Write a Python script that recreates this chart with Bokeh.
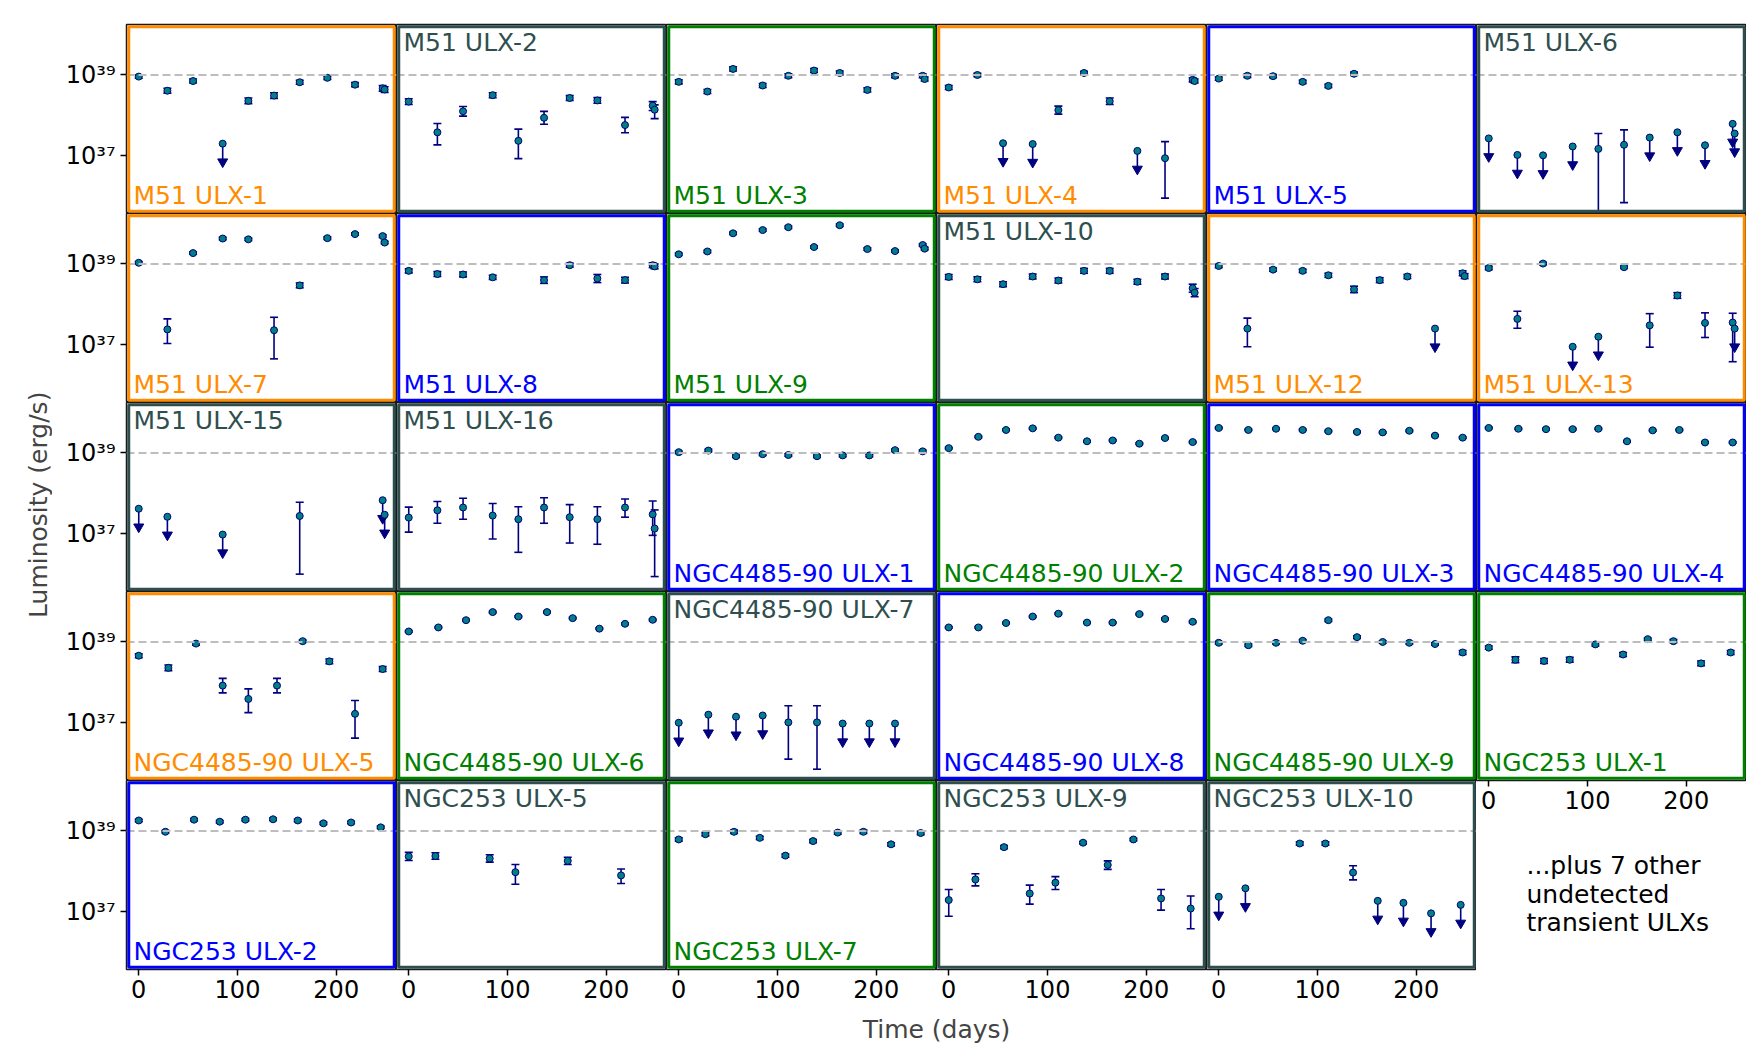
import numpy as np
from bokeh.plotting import figure
from bokeh.models import GridBox, Span, Label, FixedTicker, Range1d, Title, BoxAnnotation
from bokeh.embed import file_html
from bokeh.resources import INLINE

# ---------------- data (log10 luminosity in erg/s, time in days) ----------------
T_M51 = [0, 29, 55, 85, 111, 137, 163, 191, 219, 247, 249]
T_N4485 = [0, 30, 58, 85, 111, 140, 166, 193, 219, 247]
T_N253 = [0, 27, 56, 82, 108, 136, 161, 187, 215, 245]

NAMES = ["M51 ULX-1", "M51 ULX-2", "M51 ULX-3", "M51 ULX-4", "M51 ULX-5", "M51 ULX-6",
         "M51 ULX-7", "M51 ULX-8", "M51 ULX-9", "M51 ULX-10", "M51 ULX-12", "M51 ULX-13",
         "M51 ULX-15", "M51 ULX-16", "NGC4485-90 ULX-1", "NGC4485-90 ULX-2", "NGC4485-90 ULX-3", "NGC4485-90 ULX-4",
         "NGC4485-90 ULX-5", "NGC4485-90 ULX-6", "NGC4485-90 ULX-7", "NGC4485-90 ULX-8", "NGC4485-90 ULX-9", "NGC253 ULX-1",
         "NGC253 ULX-2", "NGC253 ULX-5", "NGC253 ULX-7", "NGC253 ULX-9", "NGC253 ULX-10"]
# class of each source (sets frame / label colour)
CLASSES = ["orange", "gray", "green", "orange", "blue", "gray",
           "orange", "blue", "green", "gray", "orange", "orange",
           "gray", "gray", "blue", "green", "blue", "blue",
           "orange", "green", "gray", "blue", "green", "green",
           "blue", "gray", "green", "gray", "gray"]

m51_ulx1_t = T_M51
m51_ulx1_L = [38.96, 38.61, 38.85, 37.30, 38.36, 38.49, 38.82, 38.93, 38.76, 38.67, 38.64]
m51_ulx1_eu = [.04, .06, .05, 0, .07, .07, .05, .04, .05, .07, .07]
m51_ulx1_ed = [.04, .06, .05, 0, .07, .07, .05, .04, .05, .07, .07]
m51_ulx1_ul = [0, 0, 0, 1, 0, 0, 0, 0, 0, 0, 0]

m51_ulx2_t = T_M51
m51_ulx2_L = [38.34, 37.58, 38.10, 38.50, 37.37, 37.94, 38.43, 38.37, 37.76, 38.24, 38.14]
m51_ulx2_eu = [.07, .22, .12, .06, .29, .16, .06, .07, .19, .10, .12]
m51_ulx2_ed = [.07, .31, .12, .06, .44, .16, .06, .07, .19, .12, .22]
m51_ulx2_ul = [0] * 11

m51_ulx3_t = T_M51
m51_ulx3_L = [38.83, 38.59, 39.15, 38.74, 38.98, 39.11, 39.05, 38.63, 38.98, 38.98, 38.90]
m51_ulx3_eu = [.05] * 11
m51_ulx3_ed = [.05] * 11
m51_ulx3_ul = [0] * 11

m51_ulx4_t = T_M51
m51_ulx4_L = [38.69, 39.00, 37.31, 37.29, 38.13, 39.05, 38.35, 37.12, 36.94, 38.88, 38.85]
m51_ulx4_eu = [.05, .04, 0, 0, .10, .04, .08, 0, .41, .05, .05]
m51_ulx4_ed = [.05, .04, 0, 0, .10, .04, .08, 0, .99, .05, .05]
m51_ulx4_ul = [0, 0, 1, 1, 0, 0, 0, 1, 0, 0, 0]

m51_ulx5_t = [0, 29, 55, 85, 111, 137]
m51_ulx5_L = [38.91, 38.98, 38.97, 38.83, 38.73, 39.03]
m51_ulx5_eu = [.04] * 6
m51_ulx5_ed = [.04] * 6
m51_ulx5_ul = [0] * 6

m51_ulx6_t = T_M51
m51_ulx6_L = [37.43, 37.02, 37.01, 37.23, 37.17, 37.27, 37.45, 37.58, 37.26, 37.79, 37.55]
m51_ulx6_eu = [0, 0, 0, 0, .38, .37, 0, 0, 0, 0, 0]
m51_ulx6_ed = [0, 0, 0, 0, 1.8, 1.43, 0, 0, 0, 0, 0]
m51_ulx6_ul = [1, 1, 1, 1, 0, 0, 1, 1, 1, 1, 1]

m51_ulx7_t = T_M51
m51_ulx7_L = [39.03, 37.38, 39.27, 39.63, 39.61, 37.36, 38.47, 39.64, 39.74, 39.69, 39.53]
m51_ulx7_eu = [.03, .26, .03, .03, .03, .32, .06, .03, .03, .03, .03]
m51_ulx7_ed = [.03, .35, .03, .03, .03, .71, .06, .03, .03, .03, .03]
m51_ulx7_ul = [0] * 11

m51_ulx8_t = [0, 29, 55, 85, 137, 163, 191, 219, 247, 249]
m51_ulx8_L = [38.83, 38.75, 38.74, 38.67, 38.60, 38.97, 38.64, 38.60, 38.97, 38.94]
m51_ulx8_eu = [.05, .06, .06, .05, .08, .05, .10, .07, .06, .06]
m51_ulx8_ed = [.05, .06, .06, .05, .08, .05, .10, .07, .06, .06]
m51_ulx8_ul = [0] * 10

m51_ulx9_t = T_M51
m51_ulx9_L = [39.24, 39.31, 39.76, 39.84, 39.91, 39.42, 39.96, 39.37, 39.32, 39.47, 39.38]
m51_ulx9_eu = [.03] * 11
m51_ulx9_ed = [.03] * 11
m51_ulx9_ul = [0] * 11

m51_ulx10_t = T_M51
m51_ulx10_L = [38.68, 38.62, 38.50, 38.69, 38.59, 38.83, 38.83, 38.56, 38.69, 38.40, 38.29]
m51_ulx10_eu = [.06, .06, .06, .06, .06, .06, .06, .06, .06, .10, .10]
m51_ulx10_ed = [.06, .06, .06, .06, .06, .06, .06, .06, .06, .10, .10]
m51_ulx10_ul = [0] * 11

m51_ulx12_t = T_M51
m51_ulx12_L = [38.95, 37.40, 38.86, 38.83, 38.72, 38.37, 38.60, 38.69, 37.40, 38.77, 38.70]
m51_ulx12_eu = [.04, .26, .04, .04, .05, .08, .06, .05, 0, .06, .06]
m51_ulx12_ed = [.04, .45, .04, .04, .05, .08, .06, .05, 0, .06, .06]
m51_ulx12_ul = [0, 0, 0, 0, 0, 0, 0, 0, 1, 0, 0]

m51_ulx13_t = T_M51
m51_ulx13_L = [38.90, 37.64, 39.01, 36.95, 37.20, 38.92, 37.48, 38.22, 37.54, 37.55, 37.40]
m51_ulx13_eu = [.04, .19, .03, 0, 0, .03, .29, .07, .25, .23, 0]
m51_ulx13_ed = [.04, .23, .03, 0, 0, .03, .54, .07, .36, .97, 0]
m51_ulx13_ul = [0, 0, 0, 1, 1, 0, 0, 0, 0, 0, 1]

m51_ulx15_t = [0, 29, 85, 163, 247, 249]
m51_ulx15_L = [37.62, 37.42, 36.98, 37.44, 37.83, 37.47]
m51_ulx15_eu = [0, 0, 0, .34, 0, 0]
m51_ulx15_ed = [0, 0, 0, 1.44, 0, 0]
m51_ulx15_ul = [1, 1, 1, 0, 1, 1]

m51_ulx16_t = T_M51
m51_ulx16_L = [37.40, 37.58, 37.65, 37.45, 37.36, 37.65, 37.41, 37.36, 37.65, 37.48, 37.13]
m51_ulx16_eu = [.26, .22, .23, .30, .31, .24, .31, .31, .21, .33, .46]
m51_ulx16_ed = [.36, .32, .29, .58, .82, .39, .64, .62, .24, .52, 1.19]
m51_ulx16_ul = [0] * 11

n4485_ulx1_t = T_N4485
n4485_ulx1_L = [39.02, 39.06, 38.92, 38.97, 38.95, 38.92, 38.94, 38.94, 39.07, 39.04]
n4485_ulx1_eu = [.03] * 10
n4485_ulx1_ed = [.03] * 10
n4485_ulx1_ul = [0] * 10

n4485_ulx2_t = T_N4485
n4485_ulx2_L = [39.12, 39.40, 39.57, 39.61, 39.38, 39.29, 39.31, 39.23, 39.37, 39.27]
n4485_ulx2_eu = [.02] * 10
n4485_ulx2_ed = [.02] * 10
n4485_ulx2_ul = [0] * 10

n4485_ulx3_t = T_N4485
n4485_ulx3_L = [39.62, 39.57, 39.60, 39.57, 39.54, 39.52, 39.51, 39.55, 39.43, 39.38]
n4485_ulx3_eu = [.02] * 10
n4485_ulx3_ed = [.02] * 10
n4485_ulx3_ul = [0] * 10

n4485_ulx4_t = T_N4485
n4485_ulx4_L = [39.62, 39.60, 39.59, 39.59, 39.60, 39.29, 39.56, 39.57, 39.26, 39.26]
n4485_ulx4_eu = [.02] * 10
n4485_ulx4_ed = [.02] * 10
n4485_ulx4_ul = [0] * 10

n4485_ulx5_t = T_N4485
n4485_ulx5_L = [38.66, 38.36, 38.96, 37.92, 37.59, 37.92, 39.02, 38.52, 37.22, 38.33]
n4485_ulx5_eu = [.05, .07, .04, .18, .25, .18, .03, .06, .33, .06]
n4485_ulx5_ed = [.05, .07, .04, .18, .34, .18, .03, .06, .60, .06]
n4485_ulx5_ul = [0] * 10

n4485_ulx6_t = T_N4485
n4485_ulx6_L = [39.26, 39.36, 39.54, 39.74, 39.63, 39.74, 39.59, 39.33, 39.45, 39.55]
n4485_ulx6_eu = [.02] * 10
n4485_ulx6_ed = [.02] * 10
n4485_ulx6_ul = [0] * 10

n4485_ulx7_t = T_N4485[:9]
n4485_ulx7_L = [37.00, 37.20, 37.15, 37.18, 37.01, 37.01, 36.98, 36.98, 36.98]
n4485_ulx7_eu = [0, 0, 0, 0, .41, .41, 0, 0, 0]
n4485_ulx7_ed = [0, 0, 0, 0, .91, 1.16, 0, 0, 0]
n4485_ulx7_ul = [1, 1, 1, 1, 0, 0, 1, 1, 1]

n4485_ulx8_t = T_N4485
n4485_ulx8_L = [39.36, 39.36, 39.47, 39.63, 39.70, 39.48, 39.48, 39.69, 39.57, 39.50]
n4485_ulx8_eu = [.02] * 10
n4485_ulx8_ed = [.02] * 10
n4485_ulx8_ul = [0] * 10

n4485_ulx9_t = T_N4485
n4485_ulx9_L = [38.98, 38.92, 38.98, 39.03, 39.54, 39.12, 39.00, 38.98, 38.95, 38.74]
n4485_ulx9_eu = [.03, .03, .03, .03, .03, .03, .03, .03, .03, .05]
n4485_ulx9_ed = [.03, .03, .03, .03, .03, .03, .03, .03, .03, .05]
n4485_ulx9_ul = [0] * 10

n253_ulx1_t = T_N253
n253_ulx1_L = [38.86, 38.56, 38.53, 38.56, 38.94, 38.69, 39.07, 39.02, 38.47, 38.74]
n253_ulx1_eu = [.04, .07, .06, .06, .04, .05, .03, .04, .06, .05]
n253_ulx1_ed = [.04, .07, .06, .06, .04, .05, .03, .04, .06, .05]
n253_ulx1_ul = [0] * 10

n253_ulx2_t = T_N253
n253_ulx2_L = [39.26, 38.98, 39.28, 39.23, 39.28, 39.29, 39.26, 39.19, 39.21, 39.09]
n253_ulx2_eu = [.03] * 10
n253_ulx2_ed = [.03] * 10
n253_ulx2_ul = [0] * 10

n253_ulx5_t = [0, 27, 82, 108, 161, 215]
n253_ulx5_L = [38.37, 38.38, 38.32, 37.98, 38.26, 37.90]
n253_ulx5_eu = [.10, .08, .09, .19, .09, .16]
n253_ulx5_ed = [.10, .08, .09, .30, .09, .20]
n253_ulx5_ul = [0] * 6

n253_ulx7_t = T_N253
n253_ulx7_L = [38.79, 38.92, 38.98, 38.83, 38.39, 38.75, 38.96, 38.98, 38.67, 38.95]
n253_ulx7_eu = [.04] * 10
n253_ulx7_ed = [.04] * 10
n253_ulx7_ul = [0] * 10

n253_ulx9_t = T_N253
n253_ulx9_L = [37.29, 37.80, 38.60, 37.45, 37.72, 38.71, 38.16, 38.79, 37.33, 37.08]
n253_ulx9_eu = [.26, .14, .04, .21, .15, .03, .10, .03, .22, .31]
n253_ulx9_ed = [.40, .16, .04, .26, .17, .03, .11, .03, .29, .50]
n253_ulx9_ul = [0] * 10

n253_ulx10_t = [0, 27, 82, 108, 136, 161, 187, 215, 245]
n253_ulx10_L = [37.37, 37.58, 38.69, 38.69, 37.97, 37.27, 37.22, 36.96, 37.17]
n253_ulx10_eu = [0, 0, .04, .04, .17, 0, 0, 0, 0]
n253_ulx10_ed = [0, 0, .04, .04, .18, 0, 0, 0, 0]
n253_ulx10_ul = [1, 1, 0, 0, 0, 1, 1, 1, 1]

SERIES = [
    (m51_ulx1_t, m51_ulx1_L, m51_ulx1_eu, m51_ulx1_ed, m51_ulx1_ul),
    (m51_ulx2_t, m51_ulx2_L, m51_ulx2_eu, m51_ulx2_ed, m51_ulx2_ul),
    (m51_ulx3_t, m51_ulx3_L, m51_ulx3_eu, m51_ulx3_ed, m51_ulx3_ul),
    (m51_ulx4_t, m51_ulx4_L, m51_ulx4_eu, m51_ulx4_ed, m51_ulx4_ul),
    (m51_ulx5_t, m51_ulx5_L, m51_ulx5_eu, m51_ulx5_ed, m51_ulx5_ul),
    (m51_ulx6_t, m51_ulx6_L, m51_ulx6_eu, m51_ulx6_ed, m51_ulx6_ul),
    (m51_ulx7_t, m51_ulx7_L, m51_ulx7_eu, m51_ulx7_ed, m51_ulx7_ul),
    (m51_ulx8_t, m51_ulx8_L, m51_ulx8_eu, m51_ulx8_ed, m51_ulx8_ul),
    (m51_ulx9_t, m51_ulx9_L, m51_ulx9_eu, m51_ulx9_ed, m51_ulx9_ul),
    (m51_ulx10_t, m51_ulx10_L, m51_ulx10_eu, m51_ulx10_ed, m51_ulx10_ul),
    (m51_ulx12_t, m51_ulx12_L, m51_ulx12_eu, m51_ulx12_ed, m51_ulx12_ul),
    (m51_ulx13_t, m51_ulx13_L, m51_ulx13_eu, m51_ulx13_ed, m51_ulx13_ul),
    (m51_ulx15_t, m51_ulx15_L, m51_ulx15_eu, m51_ulx15_ed, m51_ulx15_ul),
    (m51_ulx16_t, m51_ulx16_L, m51_ulx16_eu, m51_ulx16_ed, m51_ulx16_ul),
    (n4485_ulx1_t, n4485_ulx1_L, n4485_ulx1_eu, n4485_ulx1_ed, n4485_ulx1_ul),
    (n4485_ulx2_t, n4485_ulx2_L, n4485_ulx2_eu, n4485_ulx2_ed, n4485_ulx2_ul),
    (n4485_ulx3_t, n4485_ulx3_L, n4485_ulx3_eu, n4485_ulx3_ed, n4485_ulx3_ul),
    (n4485_ulx4_t, n4485_ulx4_L, n4485_ulx4_eu, n4485_ulx4_ed, n4485_ulx4_ul),
    (n4485_ulx5_t, n4485_ulx5_L, n4485_ulx5_eu, n4485_ulx5_ed, n4485_ulx5_ul),
    (n4485_ulx6_t, n4485_ulx6_L, n4485_ulx6_eu, n4485_ulx6_ed, n4485_ulx6_ul),
    (n4485_ulx7_t, n4485_ulx7_L, n4485_ulx7_eu, n4485_ulx7_ed, n4485_ulx7_ul),
    (n4485_ulx8_t, n4485_ulx8_L, n4485_ulx8_eu, n4485_ulx8_ed, n4485_ulx8_ul),
    (n4485_ulx9_t, n4485_ulx9_L, n4485_ulx9_eu, n4485_ulx9_ed, n4485_ulx9_ul),
    (n253_ulx1_t, n253_ulx1_L, n253_ulx1_eu, n253_ulx1_ed, n253_ulx1_ul),
    (n253_ulx2_t, n253_ulx2_L, n253_ulx2_eu, n253_ulx2_ed, n253_ulx2_ul),
    (n253_ulx5_t, n253_ulx5_L, n253_ulx5_eu, n253_ulx5_ed, n253_ulx5_ul),
    (n253_ulx7_t, n253_ulx7_L, n253_ulx7_eu, n253_ulx7_ed, n253_ulx7_ul),
    (n253_ulx9_t, n253_ulx9_L, n253_ulx9_eu, n253_ulx9_ed, n253_ulx9_ul),
    (n253_ulx10_t, n253_ulx10_L, n253_ulx10_eu, n253_ulx10_ed, n253_ulx10_ul),
]

X_TICKS = [0, 100, 200]
Y_TICKS = [1e37, 1e39]
Y_TICK_LABELS = {1e37: "10\u00b3\u2077", 1e39: "10\u00b3\u2079"}
REF_LEVEL = 1e39
NOTE = "...plus 7 other\nundetected\ntransient ULXs"
X_LABEL = "Time (days)"
Y_LABEL = "Luminosity (erg/s)"

# ---------------- styling ----------------
FONT = "DejaVu Sans"
COLORS = {"orange": "#ff8c00", "gray": "#2f4f4f", "green": "#008000", "blue": "#0000ff"}
FW, FH = 270, 189
YLAB_W = 52                  # column holding the y-axis title
LEFT_B = 126 - YLAB_W        # room for the y tick labels
TOP_B, BOT_B = 24, 40
X_START, X_END = -12.4, 261.0
Y_START, Y_END = 10 ** 35.57, 10 ** 40.25
ARROW_DEX = 0.45
NAVY = "#000080"
LABEL_SIZE = "25px"
TICK_SIZE = "24px"


def style_axis(ax):
    ax.axis_line_color = None
    ax.major_tick_line_color = "black"
    ax.major_tick_line_width = 1.5
    ax.major_tick_out = 6
    ax.major_tick_in = 0
    ax.minor_tick_line_color = None
    ax.major_label_text_font = FONT
    ax.major_label_text_font_size = TICK_SIZE
    ax.major_label_text_color = "black"


def make_panel(i, row, col, show_x, bottom_extra):
    t, L, eu, ed, ul = SERIES[i]
    name = NAMES[i]
    color = COLORS[CLASSES[i]]
    p = figure(frame_width=FW, frame_height=FH,
               x_range=Range1d(X_START, X_END), y_range=Range1d(Y_START, Y_END),
               y_axis_type="log",
               x_axis_location="below" if show_x else None,
               y_axis_location="left" if col == 0 else None,
               output_backend="svg", toolbar_location=None,
               min_border_left=LEFT_B if col == 0 else 0, min_border_right=0,
               min_border_top=TOP_B if row == 0 else 0,
               min_border_bottom=bottom_extra,
               background_fill_color="white", border_fill_color="white")
    p.grid.visible = False
    # thin dark spine plus a coloured band just inside it
    p.outline_line_color = "#1a1a1a"
    p.outline_line_width = 1.5
    p.outline_line_alpha = 1.0
    p.add_layout(BoxAnnotation(left=2.25, right=FW - 2.25, bottom=2.25, top=FH - 2.25,
                               left_units="screen", right_units="screen",
                               bottom_units="screen", top_units="screen",
                               fill_alpha=0, line_color=color, line_alpha=1.0,
                               line_width=3, level="overlay"))

    if show_x:
        p.xaxis.ticker = FixedTicker(ticks=X_TICKS)
        style_axis(p.xaxis[0])
        p.xaxis.major_label_standoff = 4
    if col == 0:
        p.yaxis.ticker = FixedTicker(ticks=Y_TICKS)
        style_axis(p.yaxis[0])
        p.yaxis.major_label_overrides = Y_TICK_LABELS
        p.yaxis.major_label_standoff = 5

    p.add_layout(Span(location=REF_LEVEL, dimension="width", line_color="#bdbdbd",
                      line_width=2, line_dash="8 4"))

    t = np.array(t, float)
    L = np.array(L, float)
    eu = np.array(eu, float)
    ed = np.array(ed, float)
    ul = np.array(ul, bool)
    det = ~ul
    y = 10 ** L
    if det.any():
        up = 10 ** (L[det] + eu[det])
        lo = 10 ** (L[det] - ed[det])
        p.segment(x0=t[det], y0=lo, x1=t[det], y1=up, line_color=NAVY, line_width=1.6)
        p.scatter(x=np.concatenate([t[det], t[det]]), y=np.concatenate([up, lo]),
                  marker="dash", size=8, line_color=NAVY, line_width=1.6)
    if ul.any():
        yend = 10 ** (L[ul] - ARROW_DEX)
        p.segment(x0=t[ul], y0=y[ul], x1=t[ul], y1=yend, line_color=NAVY, line_width=1.6)
        p.scatter(x=t[ul], y=yend, marker="inverted_triangle", size=10,
                  fill_color=NAVY, line_color=NAVY)
    p.scatter(x=t, y=y, marker="circle", size=7, fill_color="#008080",
              line_color=NAVY, line_width=1)

    top = CLASSES[i] == "gray"
    p.add_layout(Label(x=7, y=(FH - 18) if top else 18, x_units="screen", y_units="screen",
                       text=name, text_color=color, text_font=FONT, text_font_size=LABEL_SIZE,
                       text_baseline="alphabetic", text_align="left"))
    return p


children = []
for i in range(len(NAMES)):
    row, col = divmod(i, 6)
    gc = col + 1
    if i == 23:  # NGC253 ULX-1: its x-axis hangs into the empty last cell
        p = make_panel(i, row, col, True, FH + BOT_B)
        p.add_layout(Title(text=NOTE, align="left", offset=50, standoff=75,
                           text_font=FONT, text_font_size=LABEL_SIZE, text_font_style="normal",
                           text_color="black", text_line_height=0.98), "below")
        children.append((p, row, gc, 2, 1))
    else:
        last_row = row == 4
        p = make_panel(i, row, col, last_row, BOT_B if last_row else 0)
        children.append((p, row, gc))

# y-axis title column (the strip's frame ends up ~804 px tall in the grid; the label
# position below puts the title's centre on the middle of the panel grid)
GRID_H = TOP_B + 5 * FH + BOT_B
yl = figure(width=YLAB_W, height=GRID_H, x_range=Range1d(0, YLAB_W), y_range=Range1d(0, GRID_H),
            x_axis_location=None, y_axis_location=None, output_backend="svg",
            toolbar_location=None, min_border=0, outline_line_color=None)
yl.grid.visible = False
yl.add_layout(Label(x=37.5, y=368, text=Y_LABEL, angle=np.pi / 2, text_font=FONT,
                    text_font_size=LABEL_SIZE, text_align="center", text_baseline="middle"))
children.append((yl, 0, 0, 5, 1))

# x-axis title row
TOTAL_W = YLAB_W + LEFT_B + 6 * FW
XL_H = 36
xl = figure(width=TOTAL_W, height=XL_H, x_range=Range1d(0, TOTAL_W), y_range=Range1d(0, XL_H),
            x_axis_location=None, y_axis_location=None, output_backend="svg",
            toolbar_location=None, min_border=0, outline_line_color=None)
xl.grid.visible = False
xl.add_layout(Label(x=YLAB_W + LEFT_B + 3 * FW, y=XL_H - 20, text=X_LABEL, text_font=FONT,
                    text_font_size=LABEL_SIZE, text_align="center", text_baseline="middle"))
children.append((xl, 5, 0, 1, 7))

grid = GridBox(children=children, spacing=0)

with open("out.html", "w") as f:
    f.write(file_html(grid, INLINE))
